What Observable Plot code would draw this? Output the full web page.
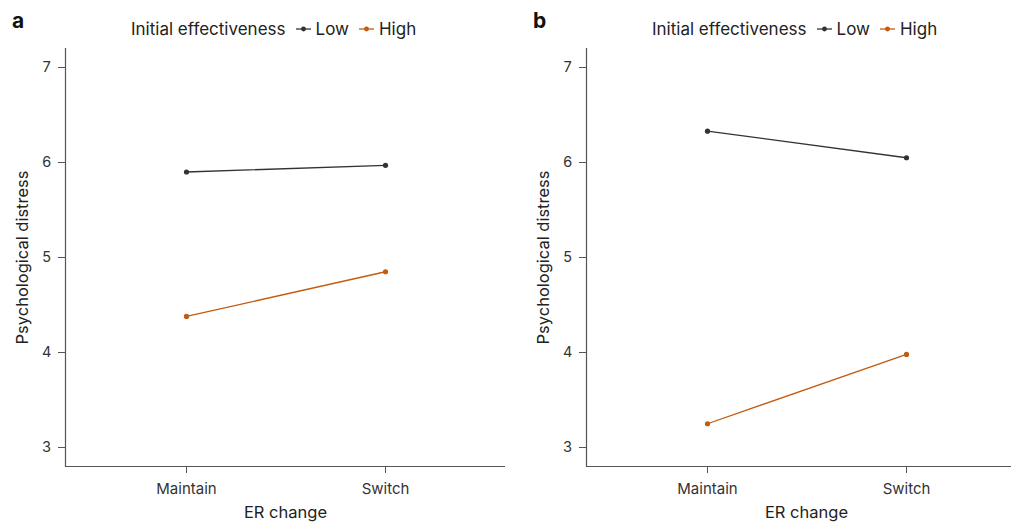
<!DOCTYPE html>
<html>
<head>
<meta charset="utf-8">
<script src="https://cdn.jsdelivr.net/npm/d3@7"></script>
<script src="https://cdn.jsdelivr.net/npm/@observablehq/plot@0.6"></script>
<style>
  html, body { margin: 0; padding: 0; background: #fff; }
  #root { position: relative; width: 1011px; height: 522px; overflow: hidden; font-family: Inter, "Noto Sans", sans-serif; color: #222; }
  .panel { position: absolute; top: 0; width: 505px; height: 522px; }
  .panel svg { max-width: none !important; }
  .letter { position: absolute; top: 8px; font-weight: 700; font-size: 21px; color: #111; }
  .legend { position: absolute; top: 19px; font-size: 17px; white-space: nowrap; display: flex; align-items: center; color: #222; }
  .legend svg { margin: 0 5px 0 10px; }
</style>
</head>
<body>
<div id="root"></div>
<script>
// ---- data ----
const conditions = ["Maintain", "Switch"];
const groups = ["Low", "High"];
const groupColors = ["#333333", "#c35a0e"];
const panelLetters = ["a", "b"];
const panelALow = [5.90, 5.97];
const panelAHigh = [4.38, 4.85];
const panelBLow = [6.33, 6.05];
const panelBHigh = [3.25, 3.98];
const yTicks = [3, 4, 5, 6, 7];
const yLabel = "Psychological distress";
const xLabel = "ER change";
const legendTitle = "Initial effectiveness";

function toRows(low, high) {
  const rows = [];
  conditions.forEach((c, i) => {
    rows.push({condition: c, group: "Low", value: low[i]});
    rows.push({condition: c, group: "High", value: high[i]});
  });
  return rows;
}

const panels = [
  {letter: panelLetters[0], rows: toRows(panelALow, panelAHigh), left: 0},
  {letter: panelLetters[1], rows: toRows(panelBLow, panelBHigh), left: 521}
];

const root = document.getElementById("root");

panels.forEach(p => {
  const chart = Plot.plot({
    width: 505,
    height: 522,
    marginLeft: 65,
    marginRight: 0,
    marginTop: 48,
    marginBottom: 56,
    style: {fontFamily: "Inter, 'Noto Sans', sans-serif", fontSize: "14px", color: "#333", background: "transparent", maxWidth: "none"},
    x: {type: "point", domain: conditions, padding: 0.6, label: null},
    y: {domain: [2.8, 7.2], label: null},
    color: {domain: groups, range: groupColors},
    marks: [
      Plot.axisY({ticks: yTicks, tickFormat: d3.format("d"), tickSize: 7, tickPadding: 7, fontSize: 14.5, stroke: "#555", fill: "#333"}),
      Plot.axisX({tickSize: 7, tickPadding: 10, fontSize: 15, stroke: "#555", fill: "#333"}),
      Plot.ruleY([2.8], {stroke: "#555", strokeWidth: 1.2}),
      Plot.frame({anchor: "left", stroke: "#555", strokeWidth: 1.2}),
      Plot.text([yLabel], {frameAnchor: "left", textAnchor: "middle", dx: -43, rotate: -90, fontSize: 16.5, fill: "#222"}),
      Plot.text([xLabel], {frameAnchor: "bottom", textAnchor: "middle", lineAnchor: "middle", dy: 46, fontSize: 16.5, fill: "#222"}),
      Plot.line(p.rows, {x: "condition", y: "value", z: "group", stroke: "group", strokeWidth: 1.3}),
      Plot.dot(p.rows, {x: "condition", y: "value", fill: "group", r: 2.6})
    ]
  });
  const wrap = document.createElement("div");
  wrap.className = "panel";
  wrap.style.left = p.left + "px";
  wrap.appendChild(chart);
  root.appendChild(wrap);

  const letter = document.createElement("div");
  letter.className = "letter";
  letter.style.left = (p.left + 12) + "px";
  letter.textContent = p.letter;
  root.appendChild(letter);

  const legend = document.createElement("div");
  legend.className = "legend";
  legend.style.left = (p.left + 131) + "px";
  let html = `<span>${legendTitle}</span>`;
  groups.forEach((g, i) => {
    html += `<svg width="15" height="10"><line x1="0" x2="15" y1="5" y2="5" stroke="${groupColors[i]}" stroke-width="1.3"/><circle cx="7.5" cy="5" r="2.4" fill="${groupColors[i]}"/></svg><span>${g}</span>`;
  });
  legend.innerHTML = html;
  root.appendChild(legend);
});
</script>
</body>
</html>
